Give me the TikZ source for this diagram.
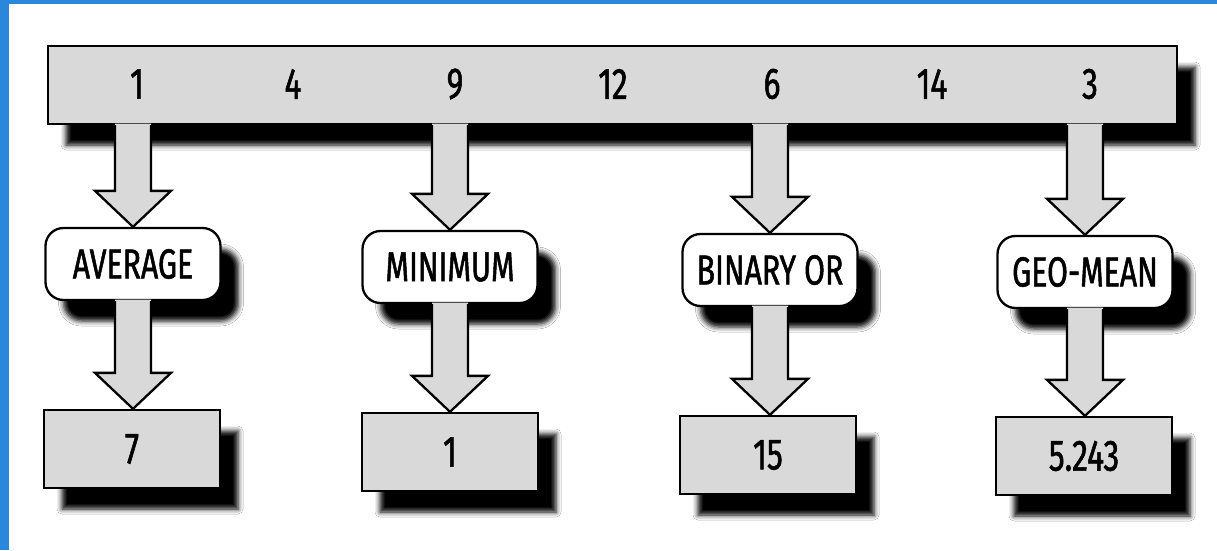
\documentclass[tikz,border=0pt]{standalone}
\usepackage{fontspec}
\setmainfont[FakeStretch=0.72,FakeBold=1.2]{Fira Sans}
\usetikzlibrary{shadows.blur,calc}
\definecolor{frameblue}{HTML}{2A87DC}
\definecolor{stipple}{HTML}{D9D9D9}
\tikzset{
  dropshadow/.style={blur shadow={shadow xshift=18pt, shadow yshift=-21pt, shadow blur radius=5pt, shadow opacity=100}},
  barbox/.style={draw=black, line width=2.3pt, fill=stipple, dropshadow, inner sep=0pt},
  opbox/.style={draw=black, line width=2.3pt, fill=white, rounded corners=18pt, minimum width=175pt, minimum height=72pt, inner sep=0pt, font=\fontsize{42}{42}\selectfont, dropshadow},
  valbox/.style={draw=black, line width=2.3pt, fill=stipple, minimum width=176pt, minimum height=78pt, inner sep=0pt, font=\fontsize{44}{44}\selectfont, dropshadow},
  numtext/.style={font=\fontsize{44}{44}\selectfont, inner sep=0pt},
  arrowfill/.style={fill=stipple},
  arrowline/.style={draw=black, line width=2.3pt, line join=miter},
}
\newcommand\fatarrow[2]{%
  \path[arrowfill] let \p1=(#1), \p2=(#2) in
    ({\x1-18pt},{\y1+1.5pt}) -- ({\x1-18pt},{\y2+36pt}) -- ({\x1-38pt},{\y2+36pt}) -- ({\x1},{\y2}) --
    ({\x1+38pt},{\y2+36pt}) -- ({\x1+18pt},{\y2+36pt}) -- ({\x1+18pt},{\y1+1.5pt}) -- cycle;
  \path[arrowline] let \p1=(#1), \p2=(#2) in
    ({\x1-18pt},{\y1}) -- ({\x1-18pt},{\y2+36pt}) -- ({\x1-38pt},{\y2+36pt}) -- ({\x1},{\y2}) --
    ({\x1+38pt},{\y2+36pt}) -- ({\x1+18pt},{\y2+36pt}) -- ({\x1+18pt},{\y1});
}
\begin{document}
\begin{tikzpicture}[x=1pt,y=-1pt]
\useasboundingbox (0,0) rectangle (1217,550);
\fill[white] (0,0) rectangle (1217,550);
\fill[frameblue] (0,0) rectangle (9,550);
\fill[frameblue] (0,0) rectangle (1217,4);

% top bar
\node[barbox, minimum width=1129pt, minimum height=78pt] (bar) at (612.5,85) {};
\node[numtext] (n1) at (137,84) {1};
\node[numtext] (n2) at (293,84) {4};
\node[numtext] (n3) at (455,84) {9};
\node[numtext] (n4) at (613,84) {12};
\node[numtext] (n5) at (772,84) {6};
\node[numtext] (n6) at (932,84) {14};
\node[numtext] (n7) at (1090,84) {3};

% operation boxes
\node[opbox] (avg) at (133,264) {AVERAGE};
\node[opbox] (min) at (450,267) {MINIMUM};
\node[opbox] (bor) at (770,270) {BINARY OR};
\node[opbox] (geo) at (1085,272) {GEO-MEAN};

% value boxes
\node[valbox] (v1) at (132,449) {7};
\node[valbox] (v2) at (450,452) {1};
\node[valbox] (v3) at (768,455) {15};
\node[valbox] (v4) at (1084,456) {5.243};

% arrows bar -> operations
\fatarrow{avg.north |- bar.south}{avg.north}
\fatarrow{min.north |- bar.south}{min.north}
\fatarrow{bor.north |- bar.south}{bor.north}
\fatarrow{geo.north |- bar.south}{geo.north}

% arrows operations -> values
\fatarrow{avg.south}{v1.north -| avg.south}
\fatarrow{min.south}{v2.north -| min.south}
\fatarrow{bor.south}{v3.north -| bor.south}
\fatarrow{geo.south}{v4.north -| geo.south}
\end{tikzpicture}
\end{document}
